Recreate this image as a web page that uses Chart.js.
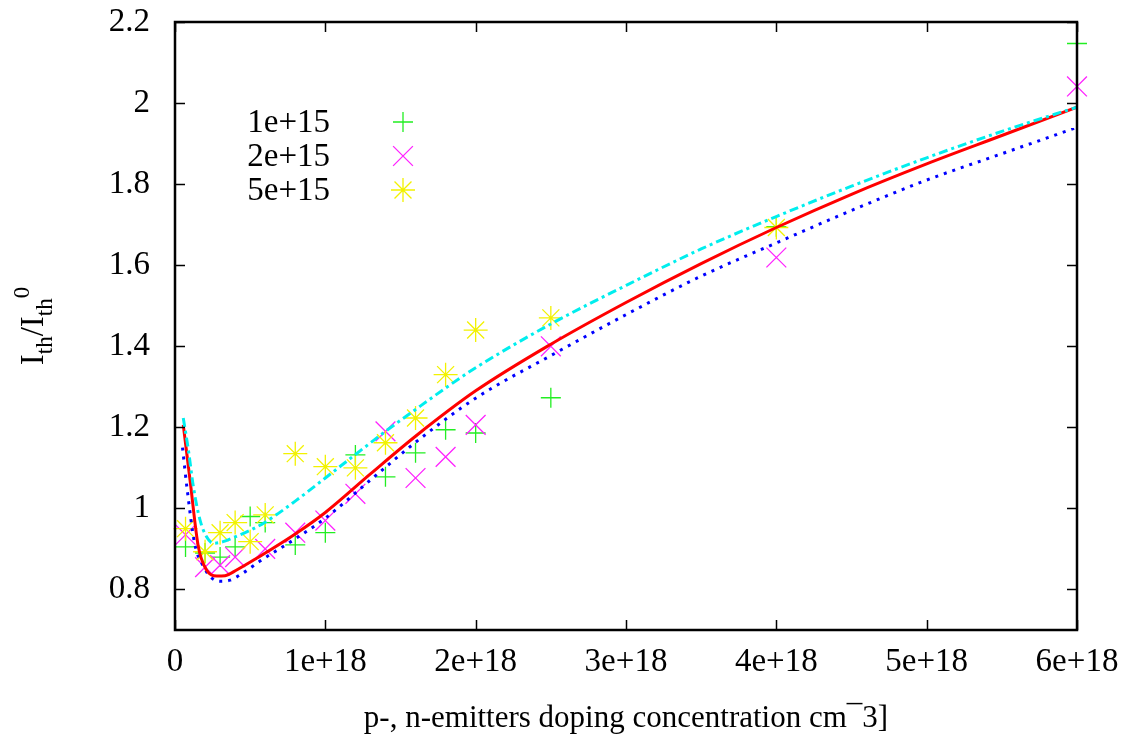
<!DOCTYPE html>
<html><head><meta charset="utf-8">
<script src="https://cdn.jsdelivr.net/npm/chart.js@4.4.1/dist/chart.umd.min.js"></script>
<style>html,body{margin:0;padding:0;background:#fff;}#wrap{width:1139px;height:743px;}</style>
</head><body><div id="wrap"><canvas id="c" width="1139" height="743"></canvas></div>
<script>
// ---- tick labels ----
const xTicks = [0, 1e18, 2e18, 3e18, 4e18, 5e18, 6e18];
const xTickLabels = ['0', '1e+18', '2e+18', '3e+18', '4e+18', '5e+18', '6e+18'];
const yTicks = [0.8, 1.0, 1.2, 1.4, 1.6, 1.8, 2.0, 2.2];
const yTickLabels = ['0.8', '1', '1.2', '1.4', '1.6', '1.8', '2', '2.2'];
const seriesLabels = ['1e+15', '2e+15', '5e+15'];

// ---- measured points ----
const greenX = [7e16, 2e17, 3e17, 4e17, 5e17, 6e17, 8e17, 1e18, 1.2e18, 1.4e18, 1.6e18, 1.8e18, 2e18, 2.5e18, 4e18, 6e18];
const greenY = [0.905, 0.89, 0.88, 0.905, 0.98, 0.965, 0.91, 0.94, 1.132, 1.078, 1.137, 1.194, 1.186, 1.273, 1.695, 2.147];
const magentaX = [7e16, 2e17, 3e17, 4e17, 6e17, 8e17, 1e18, 1.2e18, 1.4e18, 1.6e18, 1.8e18, 2e18, 2.5e18, 4e18, 6e18];
const magentaY = [0.935, 0.855, 0.86, 0.88, 0.90, 0.94, 0.97, 1.036, 1.19, 1.075, 1.127, 1.206, 1.40, 1.619, 2.041];
const yellowX = [7e16, 2e17, 3e17, 4e17, 5e17, 6e17, 8e17, 1e18, 1.2e18, 1.4e18, 1.6e18, 1.8e18, 2e18, 2.5e18, 4e18];
const yellowY = [0.95, 0.893, 0.94, 0.965, 0.918, 0.984, 1.135, 1.103, 1.10, 1.162, 1.223, 1.33, 1.44, 1.47, 1.693];

// ---- model curves ----
const redX = [5.5e16, 1e17, 1.55e17, 2.1e17, 2.77e17, 3.33e17, 4.1e17, 5.43e17, 8e17, 1e18, 1.3e18, 1.6e18, 2e18, 2.5e18, 3e18, 3.5e18, 4e18, 4.5e18, 5e18, 5.5e18, 6e18];
const redY = [1.206, 1.07, 0.906, 0.848, 0.833, 0.834, 0.848, 0.877, 0.937, 0.99, 1.085, 1.178, 1.29, 1.405, 1.508, 1.604, 1.693, 1.775, 1.85, 1.92, 1.99];
const blueX = [5e16, 8e16, 1.3e17, 1.9e17, 2.45e17, 3e17, 3.66e17, 4.5e17, 5.65e17, 8e17, 1e18, 1.3e18, 1.6e18, 2e18, 2.5e18, 3e18, 3.5e18, 4e18, 4.5e18, 5e18, 5.5e18, 6e18];
const blueY = [1.15, 1.05, 0.915, 0.856, 0.828, 0.82, 0.823, 0.84, 0.87, 0.925, 0.976, 1.07, 1.163, 1.272, 1.377, 1.478, 1.573, 1.655, 1.735, 1.81, 1.875, 1.94];
const cyanX = [5.5e16, 8.9e16, 1.22e17, 1.66e17, 2.1e17, 2.55e17, 3.2e17, 4e17, 5e17, 6e17, 8e17, 1e18, 1.2e18, 1.4e18, 1.6e18, 1.8e18, 2e18, 2.5e18, 3e18, 3.5e18, 4e18, 4.5e18, 5e18, 5.5e18, 6e18];
const cyanY = [1.223, 1.144, 1.054, 0.972, 0.93, 0.914, 0.918, 0.93, 0.946, 0.966, 1.018, 1.075, 1.133, 1.19, 1.244, 1.297, 1.347, 1.455, 1.55, 1.64, 1.72, 1.795, 1.865, 1.93, 1.99];

const zip = (xs, ys) => xs.map((x, i) => ({x: x, y: ys[i]}));
const SERIF = '"Liberation Serif", "DejaVu Serif", serif';
const GREEN = '#22ee22', MAGENTA = '#ff22ff', YELLOW = '#f2f200';

const markerSets = [
  {label: seriesLabels[0], color: GREEN, style: 'cross', r: 10},
  {label: seriesLabels[1], color: MAGENTA, style: 'crossRot', r: 14},
  {label: seriesLabels[2], color: YELLOW, style: 'star', r: 12}
];

const frame = {
  id: 'frame',
  afterDraw(chart) {
    const {ctx, chartArea: a} = chart;
    const xs = chart.scales.x, ys = chart.scales.y;
    ctx.save();
    ctx.strokeStyle = '#000';
    ctx.lineWidth = 1.5;
    ctx.beginPath();
    xTicks.forEach(v => {
      const px = Math.round(xs.getPixelForValue(v)) + 0.5;
      ctx.moveTo(px, a.bottom); ctx.lineTo(px, a.bottom - 10);
      ctx.moveTo(px, a.top); ctx.lineTo(px, a.top + 10);
    });
    yTicks.forEach(v => {
      const py = Math.round(ys.getPixelForValue(v)) + 0.5;
      ctx.moveTo(a.left, py); ctx.lineTo(a.left + 10, py);
      ctx.moveTo(a.right, py); ctx.lineTo(a.right - 10, py);
    });
    ctx.stroke();
    ctx.lineWidth = 2.5;
    ctx.strokeRect(a.left, a.top, a.right - a.left, a.bottom - a.top);

    // key
    ctx.font = '33px ' + SERIF;
    ctx.fillStyle = '#000';
    ctx.textAlign = 'right';
    ctx.textBaseline = 'middle';
    markerSets.forEach((m, i) => {
      const ty = a.top + 100 + i * 34;
      ctx.fillText(m.label, a.left + 155, ty + 1);
      ctx.strokeStyle = m.color;
      ctx.lineWidth = 1.3;
      Chart.helpers.drawPoint(ctx, {pointStyle: m.style, radius: m.r, borderWidth: 1.3, rotation: 0}, a.left + 228, ty);
    });

    // y axis title with sub/superscripts
    const parts = [
      {t: 'I', s: 33, dy: 0}, {t: 'th', s: 23, dy: 9}, {t: '/I', s: 33, dy: 0},
      {t: 'th', s: 23, dy: 9}, {t: '0', s: 23, dy: -14}
    ];
    let w = 0;
    parts.forEach(p => { ctx.font = p.s + 'px ' + SERIF; p.w = ctx.measureText(p.t).width; w += p.w; });
    ctx.translate(43, (a.top + a.bottom) / 2);
    ctx.rotate(-Math.PI / 2);
    ctx.textAlign = 'left';
    ctx.textBaseline = 'alphabetic';
    let cx = -w / 2;
    parts.forEach(p => { ctx.font = p.s + 'px ' + SERIF; ctx.fillText(p.t, cx, p.dy); cx += p.w; });
    ctx.restore();
  }
};

new Chart(document.getElementById('c'), {
  type: 'scatter',
  data: {
    datasets: [
      {type: 'line', label: 'model a', data: zip(redX, redY), borderColor: '#ff0000', borderWidth: 3, pointRadius: 0, fill: false, cubicInterpolationMode: 'monotone', order: 1},
      {type: 'line', label: 'model b', data: zip(blueX, blueY), borderColor: '#0000ff', borderWidth: 3, borderDash: [3, 6], pointRadius: 0, fill: false, cubicInterpolationMode: 'monotone', order: 2},
      {type: 'line', label: 'model c', data: zip(cyanX, cyanY), borderColor: '#00eeee', borderWidth: 3, borderDash: [9, 4, 3, 4], pointRadius: 0, fill: false, cubicInterpolationMode: 'monotone', order: 0},
      {label: seriesLabels[0], data: zip(greenX, greenY), pointStyle: 'cross', pointRadius: 10, borderColor: GREEN, backgroundColor: GREEN, pointBorderWidth: 1.3, clip: false, order: 5},
      {label: seriesLabels[1], data: zip(magentaX, magentaY), pointStyle: 'crossRot', pointRadius: 14, borderColor: MAGENTA, backgroundColor: MAGENTA, pointBorderWidth: 1.3, clip: false, order: 4},
      {label: seriesLabels[2], data: zip(yellowX, yellowY), pointStyle: 'star', pointRadius: 12, borderColor: YELLOW, backgroundColor: YELLOW, pointBorderWidth: 1.3, clip: false, order: 3}
    ]
  },
  options: {
    responsive: false,
    animation: false,
    devicePixelRatio: 1,
    layout: {padding: {top: 22, right: 62, left: 0, bottom: 0}},
    plugins: {legend: {display: false}, tooltip: {enabled: false}},
    scales: {
      x: {
        type: 'linear', min: 0, max: 6e18,
        afterFit: s => { s.height = 113; s.paddingLeft = 0; s.paddingRight = 0; },
        afterBuildTicks: s => { s.ticks = xTicks.map(v => ({value: v})); },
        grid: {display: false, drawTicks: false},
        border: {display: false},
        ticks: {padding: 13, color: '#000', font: {family: SERIF, size: 33}, maxRotation: 0, autoSkip: false,
          callback: v => xTickLabels[xTicks.indexOf(v)]},
        title: {display: true, text: 'p-, n-emitters doping concentration cm¯3]', color: '#000', font: {family: SERIF, size: 31}, padding: {bottom: 6, top: 0}}
      },
      y: {
        type: 'linear', min: 0.7, max: 2.2,
        afterFit: s => { s.width = 175; s.paddingTop = 0; s.paddingBottom = 0; },
        afterBuildTicks: s => { s.ticks = yTicks.map(v => ({value: v})); },
        grid: {display: false, drawTicks: false},
        border: {display: false},
        ticks: {padding: 25, color: '#000', font: {family: SERIF, size: 33}, autoSkip: false,
          callback: v => yTickLabels[yTicks.findIndex(t => Math.abs(t - v) < 1e-9)]}
      }
    }
  },
  plugins: [frame]
});
</script></body></html>
